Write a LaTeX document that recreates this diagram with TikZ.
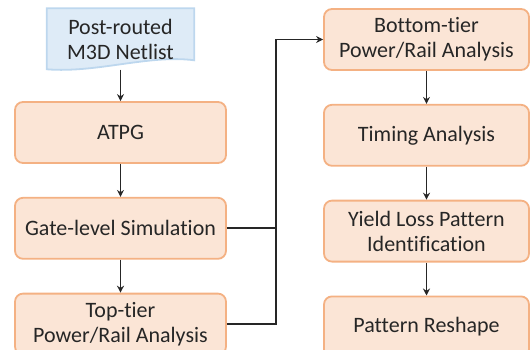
\documentclass[tikz,border=0pt]{standalone}
\usepackage{fontspec}
\setmainfont{Carlito}[Ligatures=NoCommon]
\usepackage{tikz}
\usetikzlibrary{shapes.geometric, arrows.meta, calc, positioning}
\definecolor{boxfill}{HTML}{FBE5D6}
\definecolor{boxline}{HTML}{F4B183}
\definecolor{docfill}{HTML}{DEEBF7}
\definecolor{docline}{HTML}{BDD7EE}
\definecolor{textgray}{HTML}{262626}
\tikzstyle{block} = [rectangle, rounded corners=8pt, line width=1.8pt, minimum width=211pt, minimum height=61pt, align=center, draw=boxline, fill=boxfill, text=textgray, font=\fontsize{22}{25}\selectfont]
\tikzstyle{doc} = [rectangle, minimum width=147pt, minimum height=61pt, align=center, text=textgray, font=\fontsize{22}{25}\selectfont]
\tikzstyle{arrow} = [line width=1.9pt,-{Stealth[length=7pt,width=7pt]}, draw=textgray]

\begin{document}
\begin{tikzpicture}[x=1pt, y=1pt, node distance = 33pt]
		\useasboundingbox (0,0) rectangle (530,349);
		\node (Netlist) [doc] at (120.5,310) {Post-routed\\M3D Netlist};
		\fill[docfill, draw=docline, line width=1.8pt] (Netlist.north west) -- (Netlist.north east) -- ($(Netlist.north east)+(0,-52)$) .. controls +(-45,6) and +(50,-4) .. ($(Netlist.north west)+(0,-61)$) -- cycle;
		\node (Netlist) [doc] at (120.5,310) {Post-routed\\M3D Netlist};
		\node (ATPG) [block] at (120.5,216.5) {ATPG};
		\node (GateSim) [block, below = of ATPG] {Gate-level Simulation};
		\node (TopTier) [block, below = of GateSim] {Top-tier\\Power/Rail Analysis};
		\node (BottomTier) [block, minimum width=205pt] at (426.5,309.5) {Bottom-tier\\Power/Rail Analysis};
		\node (Timing) [block, minimum width=205pt, below = of BottomTier] {Timing Analysis};
		\node (YieldLoss) [block, minimum width=205pt, below = of Timing] {Yield Loss Pattern\\Identification};
		\node (Reshape) [block, minimum width=205pt, below = of YieldLoss] {Pattern Reshape};
		\coordinate (Trunk) at ($(TopTier.east)+(49,0)$);
		\draw [arrow] (Netlist.south) -- (ATPG);
		\draw [arrow] (ATPG) -- (GateSim);
		\draw [arrow] (GateSim) -- (TopTier);
		\draw [arrow] (TopTier.east) -- (Trunk) |- (BottomTier.west);
		\draw [line width=1.9pt, textgray] (GateSim.east) -- (GateSim.east -| Trunk);
		\draw [arrow] (BottomTier) -- (Timing);
		\draw [arrow] (Timing) -- (YieldLoss);
		\draw [arrow] (YieldLoss) -- (Reshape);
\end{tikzpicture}
\end{document}
